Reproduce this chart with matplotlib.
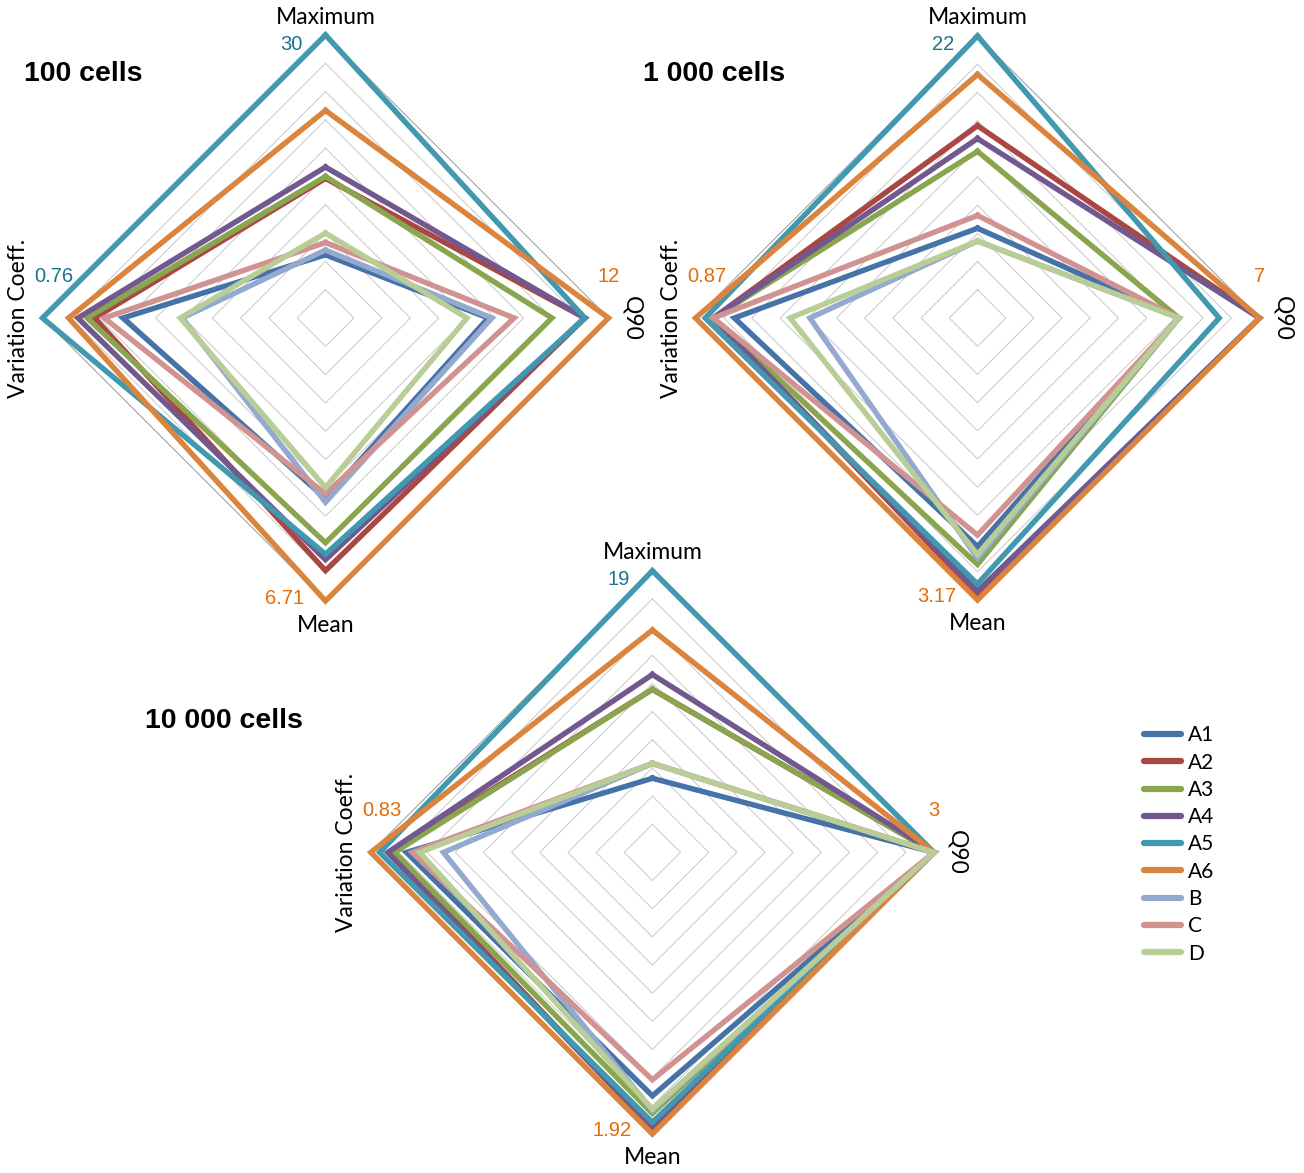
import numpy as np
import matplotlib
matplotlib.use("Agg")
import matplotlib.pyplot as plt
from matplotlib.lines import Line2D

series = ['A1', 'A2', 'A3', 'A4', 'A5', 'A6', 'B', 'C', 'D']
colors = ['#4572A7', '#AA4643', '#89A54E', '#71588F', '#4198AF',
          '#DB843D', '#93A9CF', '#D19392', '#B9CD96']
axis_names = ['Maximum', 'Q90', 'Mean', 'Variation Coeff.']

# 100 cells
maximum_100 = [6.7, 14.8, 15, 16, 30, 22, 7.2, 8, 9]
q90_100 = [6.9, 11, 9.6, 11, 11, 12, 7.05, 8, 6]
mean_100 = [4.28, 5.99, 5.33, 5.73, 5.60, 6.71, 4.37, 4.17, 4.02]
vc_100 = [0.544, 0.62, 0.64, 0.665, 0.76, 0.69, 0.385, 0.594, 0.39]
owner_100 = ['A5', 'A6', 'A6', 'A5']

# 1 000 cells
maximum_1000 = [7, 15, 13, 14, 22, 19, 6, 8, 6]
q90_1000 = [5, 7, 5, 7, 6, 7, 5, 5, 5]
mean_1000 = [2.57, 3.11, 2.77, 3.07, 2.99, 3.17, 2.70, 2.44, 2.66]
vc_1000 = [0.75, 0.815, 0.815, 0.815, 0.84, 0.87, 0.517, 0.815, 0.578]
owner_1000 = ['A5', 'A6', 'A6', 'A6']

# 10 000 cells
maximum_10000 = [5, 11, 11, 12, 19, 15, 6, 6, 6]
q90_10000 = [3, 3, 3, 3, 3, 3, 3, 3, 3]
mean_10000 = [1.66, 1.88, 1.78, 1.88, 1.84, 1.92, 1.76, 1.55, 1.75]
vc_10000 = [0.725, 0.77, 0.76, 0.78, 0.804, 0.83, 0.616, 0.708, 0.686]
owner_10000 = ['A5', 'A6', 'A6', 'A6']

label_colors = {'A5': '#17758F', 'A6': '#E36C09'}

W, H = 1304, 1173
fig = plt.figure(figsize=(W / 100, H / 100), dpi=100)

label_font = 'Lato'
num_font = 'Liberation Sans'


def fmt(v):
    return '{:g}'.format(v)


def radar(cx, cy, R, cols, owners, title, title_xy):
    ax = fig.add_axes([(cx - R) / W, (H - cy - R) / H, 2 * R / W, 2 * R / H],
                      projection='polar')
    ax.set_theta_zero_location('N')
    ax.set_theta_direction(-1)
    ax.set_ylim(0, 1)
    ax.set_xticks([])
    ax.set_yticks([])
    ax.grid(False)
    ax.spines['polar'].set_visible(False)
    ax.patch.set_alpha(0)

    theta = np.arange(4) * np.pi / 2
    theta_c = np.append(theta, 0)

    # diamond grid
    for lvl in np.arange(1, 11) / 10:
        ax.plot(theta_c, [lvl] * 5, color='#999999' if lvl == 1 else '#C8C8C8',
                lw=0.7, clip_on=False, zorder=1)

    maxes = [max(c) for c in cols]
    for i, name in enumerate(series):
        r = [cols[k][i] / maxes[k] for k in range(4)]
        r.append(r[0])
        ax.plot(theta_c, r, color=colors[i], lw=3.9, clip_on=False,
                solid_joinstyle='miter', zorder=2)

    # axis names
    ax.annotate('Maximum', (0, 1), xytext=(0, 18), textcoords='offset pixels',
                ha='center', va='center', fontsize=16.5, family=label_font)
    ax.annotate('Q90', (np.pi / 2, 1), xytext=(23, 0), textcoords='offset pixels',
                ha='center', va='center', fontsize=16.5, family=label_font, rotation=-90)
    ax.annotate('Mean', (np.pi, 1), xytext=(0, -24), textcoords='offset pixels',
                ha='center', va='center', fontsize=16.5, family=label_font)
    ax.annotate('Variation Coeff.', (3 * np.pi / 2, 1), xytext=(-24, 0),
                textcoords='offset pixels', ha='center', va='center',
                fontsize=16.5, family=label_font, rotation=90)

    # max value labels
    offs = [((-23, -9), 'right'), ((0, 42), 'center'),
            ((-21, 3), 'right'), ((11, 42), 'center')]
    for k in range(4):
        (dx, dy), ha = offs[k]
        ax.annotate(fmt(maxes[k]), (theta[k], 1), xytext=(dx, dy),
                    textcoords='offset pixels', ha=ha, va='center',
                    fontsize=14.5, family=num_font,
                    color=label_colors[owners[k]])

    fig.text(title_xy[0] / W, 1 - title_xy[1] / H, title, ha='left', va='center',
             fontsize=20.5, fontweight='bold', family=num_font)


radar(325.5, 318, 283, [maximum_100, q90_100, mean_100, vc_100], owner_100,
      '100 cells', (24, 74))
radar(977.5, 318, 282, [maximum_1000, q90_1000, mean_1000, vc_1000], owner_1000,
      '1 000 cells', (643, 74))
radar(652.4, 852.4, 281.6, [maximum_10000, q90_10000, mean_10000, vc_10000],
      owner_10000, '10 000 cells', (145, 721))

handles = [Line2D([], [], color=c, lw=4.5, solid_capstyle='round') for c in colors]
fig.legend(handles, series, loc='upper left', bbox_to_anchor=(1136 / W, 1 - 717 / H),
           frameon=False, prop={'family': label_font, 'size': 15},
           handlelength=1.75, handletextpad=0.35, labelspacing=0.35,
           borderaxespad=0)

fig.savefig('out.png', dpi=100)
